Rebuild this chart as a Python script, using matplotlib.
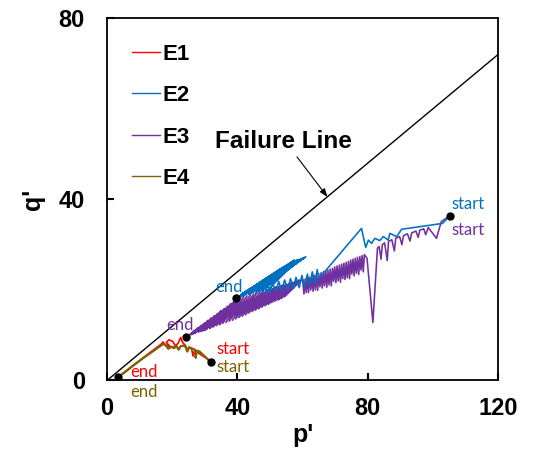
import numpy as np
import matplotlib
matplotlib.use("Agg")
import matplotlib.pyplot as plt

# stress paths (p', q') for the four cyclic tests
e1_path = [(32.0, 4.0), (30.5, 4.9), (29.0, 5.6), (27.8, 6.2), (26.8, 6.5),
           (26.4, 5.4), (26.0, 6.9), (25.2, 7.4), (24.8, 6.6), (24.0, 7.8),
           (23.2, 8.4), (22.6, 9.5), (21.8, 8.2), (21.0, 7.6), (20.2, 8.6),
           (19.0, 9.0), (18.2, 8.4), (19.5, 7.4), (20.8, 7.2), (18.0, 7.8),
           (17.2, 8.5), (16.6, 8.0), (14.5, 6.9), (12.0, 5.5), (9.0, 3.8),
           (6.0, 2.1), (3.5, 0.8)]

e2_path = [(105.2, 36.4), (103.0, 34.7), (90.4, 33.4), (88.9, 31.8),
           (86.8, 32.5), (86.3, 31.0), (84.8, 31.8), (83.7, 30.9), (82.2, 31.4),
           (81.2, 30.3), (80.2, 31.0), (79.4, 29.4), (79.1, 30.3), (78.1, 33.6),
           (65.0, 22.5), (64.5, 24.5), (63.8, 21.5), (63.0, 24.0), (62.2, 21.0),
           (61.5, 23.5), (60.6, 20.8), (59.8, 23.2), (59.0, 20.5), (58.0, 22.8),
           (57.2, 20.3), (56.3, 22.5), (55.5, 20.0), (54.5, 22.2), (53.6, 19.8),
           (52.7, 21.9), (51.8, 19.6), (50.8, 21.6), (50.0, 19.5), (49.2, 21.2),
           (48.5, 19.4), (56.0, 24.8), (47.5, 19.8), (57.0, 25.3), (46.5, 20.2),
           (58.0, 25.8), (46.0, 19.5), (58.8, 26.3), (45.5, 19.3), (59.6, 26.6),
           (45.0, 20.0), (60.3, 27.0), (44.5, 19.8), (61.0, 27.3), (44.0, 19.2),
           (60.4, 27.1), (43.5, 19.0), (59.5, 26.9), (43.0, 19.6), (58.6, 26.7),
           (42.5, 19.2), (57.5, 26.6), (42.0, 18.8), (56.8, 26.2), (41.5, 18.6),
           (56.0, 25.8), (41.2, 19.0), (55.0, 25.4), (41.0, 18.9), (54.0, 25.0),
           (40.6, 18.5), (52.5, 24.3), (40.3, 18.4), (51.0, 23.5), (39.7, 18.2)]

e3_path = [(105.2, 36.4), (102.6, 35.1), (101.1, 31.4), (98.6, 33.8),
           (97.8, 32.2), (97.2, 33.5), (96.0, 33.2), (95.5, 31.6), (94.8, 33.0),
           (93.5, 32.6), (93.0, 30.8), (92.2, 32.4), (91.0, 32.0), (90.5, 30.0),
           (89.8, 31.8), (88.6, 31.4), (88.2, 28.6), (87.4, 31.1), (86.4, 30.7),
           (86.0, 26.5), (85.2, 30.4), (84.5, 30.0), (84.1, 26.8), (83.5, 29.6),
           (83.0, 29.2), (81.6, 12.8), (79.8, 27.0),
           # tall teeth between 79 and 60
           (79.0, 27.8), (78.65, 24.0), (78.3, 27.6), (77.95, 24.4),
           (77.6, 27.4), (77.25, 23.4), (76.9, 27.2), (76.55, 23.7),
           (76.2, 27.0), (75.85, 23.1), (75.5, 26.8), (75.15, 23.5),
           (74.8, 26.6), (74.45, 22.5), (74.1, 26.3), (73.75, 22.7),
           (73.4, 26.1), (73.05, 22.3), (72.7, 25.9), (72.35, 22.5),
           (72.0, 25.7), (71.65, 21.7), (71.3, 25.5), (70.95, 22.0),
           (70.6, 25.3), (70.25, 21.6), (69.9, 25.1), (69.55, 21.9),
           (69.2, 24.8), (68.85, 20.9), (68.5, 24.6), (68.15, 21.1),
           (67.8, 24.4), (67.45, 20.6), (67.1, 24.2), (66.75, 20.9),
           (66.4, 24.0), (66.05, 20.4), (65.7, 23.8), (65.35, 20.7),
           (65.0, 23.6), (64.65, 19.9), (64.3, 23.4), (63.95, 20.0),
           (63.6, 23.2), (63.25, 19.7), (62.9, 23.0), (62.55, 20.0),
           (62.2, 22.8), (61.85, 19.4), (61.5, 22.6), (61.15, 19.4),
           (60.8, 22.4), (60.45, 19.1),
           # long strokes down to the end point
           (60.0, 22.4), (54.5, 18.5), (59.0, 22.2), (53.5, 18.1),
           (58.0, 22.0), (52.5, 17.8), (57.0, 21.7), (51.5, 17.5),
           (56.0, 21.5), (50.5, 17.2), (55.0, 21.3), (49.5, 16.8),
           (54.0, 21.1), (48.5, 16.5), (53.0, 20.9), (47.5, 16.2),
           (52.0, 20.7), (46.5, 15.8), (51.0, 20.4), (45.5, 15.5),
           (50.0, 20.2), (44.5, 15.2), (49.0, 20.0), (43.5, 14.9),
           (48.0, 19.8), (42.5, 14.5), (47.0, 19.6), (41.5, 14.2),
           (46.0, 19.4), (40.5, 13.9), (45.0, 19.1), (39.5, 13.6),
           (44.0, 18.9), (38.5, 13.3), (43.0, 18.7), (37.5, 13.1),
           (42.0, 18.5), (36.5, 12.8), (41.0, 18.3), (35.5, 12.6),
           (40.0, 18.0), (34.5, 12.3), (39.0, 17.5), (33.5, 12.1),
           (38.0, 17.0), (32.5, 11.8), (37.0, 16.4), (31.5, 11.5),
           (36.0, 15.9), (30.5, 11.3), (35.0, 15.4), (30.0, 11.1),
           (34.0, 14.8), (29.5, 11.0), (33.0, 14.3), (29.0, 10.9),
           (32.0, 13.8), (28.5, 10.8), (31.0, 13.3), (28.0, 10.7),
           (30.0, 12.7), (27.0, 10.4), (29.0, 12.2), (26.5, 10.3),
           (28.0, 11.7), (25.8, 10.1), (27.0, 11.1), (25.0, 9.9),
           (24.3, 9.7)]

e4_path = [(32.0, 4.0), (30.8, 4.8), (29.6, 5.6), (28.4, 6.4), (27.6, 6.6),
           (27.2, 5.0), (27.0, 6.8), (26.0, 7.1), (25.2, 7.3), (24.6, 6.4),
           (24.2, 7.4), (23.4, 7.7), (22.6, 7.6), (22.0, 6.8), (21.4, 7.5),
           (20.5, 7.3), (19.6, 7.4), (18.8, 7.0), (18.2, 7.6), (17.4, 8.1),
           (16.5, 7.7), (14.0, 6.4), (11.0, 4.9), (8.0, 3.3), (5.5, 1.9),
           (3.5, 0.8)]

series_names = ['E1', 'E2', 'E3', 'E4']
series_colors = ['#FF0000', '#0070C0', '#7030A0', '#7F6000']

# failure line q' = M p'
failure_p = [0, 120]
failure_q = [0, 72]

# start / end points and their labels
point_p = [105.2, 39.7, 24.3, 32.0, 3.5]
point_q = [36.4, 18.2, 9.7, 4.0, 0.8]

label_text = ['start', 'start', 'end', 'end', 'start', 'start', 'end', 'end']
label_p = [105.8, 105.8, 37.5, 22.3, 33.7, 33.7, 7.0, 7.0]
label_q = [39.0, 33.2, 20.7, 12.3, 7.0, 3.0, 1.9, -2.5]
label_ha = ['left', 'left', 'center', 'center', 'left', 'left', 'left', 'left']
label_color = ['#0070C0', '#7030A0', '#0070C0', '#7030A0',
               '#FF0000', '#7F6000', '#FF0000', '#7F6000']

px = 1/100
fig = plt.figure(figsize=(534*px, 452*px), dpi=100)
ax = fig.add_axes([0.2004, 0.1582, 0.7322, 0.8013])

paths = [e1_path, e2_path, e3_path, e4_path]
widths = [1.2, 1.15, 1.15, 1.6]
zorders = [4, 3, 2, 5]
handles = []
for path, name, c, lw, z in zip(paths, series_names, series_colors, widths, zorders):
    arr = np.array(path)
    h, = ax.plot(arr[:, 0], arr[:, 1], color=c, lw=lw, label=name, zorder=z)
    handles.append(h)

ax.plot(failure_p, failure_q, color='black', lw=1.0, zorder=1)
ax.plot(point_p, point_q, 'o', color='black', ms=5, zorder=6)

for t, p, q, ha, c in zip(label_text, label_p, label_q, label_ha, label_color):
    ax.text(p, q, t, color=c, ha=ha, va='center', fontsize=12,
            family='Lato', clip_on=False, zorder=7)

ax.text(54.0, 52.7, 'Failure Line', ha='center', va='center', fontsize=17.5,
        fontweight='bold', family='Liberation Sans')
ax.annotate('', xy=(67.7, 40.5), xytext=(58.3, 49.4),
            arrowprops=dict(arrowstyle='-|>,head_length=0.5,head_width=0.18',
                            color='black', lw=0.8, shrinkA=0, shrinkB=0))

leg = ax.legend(handles=handles, loc='upper left', bbox_to_anchor=(0.065, 0.93),
                frameon=False, borderpad=0, borderaxespad=0, handlelength=1.22,
                handletextpad=0.13, labelspacing=0.92,
                prop={'family': 'Liberation Sans', 'weight': 'bold', 'size': 16})
for lh in leg.get_lines():
    lh.set_linewidth(1.0)

ax.set_xlim(0, 120)
ax.set_ylim(0, 80)
ax.set_xticks([0, 40, 80, 120])
ax.set_yticks([0, 40, 80])
ax.tick_params(direction='in', length=5, width=1.5, labelsize=17, pad=12,
               top=False, right=False)
ax.tick_params(axis='y', pad=16)
for lab in ax.get_xticklabels() + ax.get_yticklabels():
    lab.set_fontweight('bold')
    lab.set_family('Liberation Sans')
for s in ax.spines.values():
    s.set_linewidth(1.3)

ax.set_xlabel("p'", fontsize=18, fontweight='bold', family='Liberation Sans', labelpad=2)
ax.set_ylabel("q'", fontsize=18, fontweight='bold', family='Liberation Sans', labelpad=10)

fig.savefig('out.png', dpi=100)
